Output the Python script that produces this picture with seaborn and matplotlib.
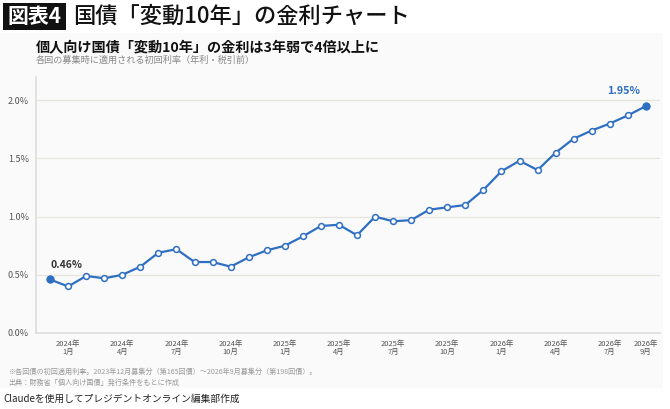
import matplotlib
matplotlib.use("Agg")
import matplotlib.pyplot as plt
import matplotlib.patches as mpatches
import seaborn as sns
import pandas as pd

# ---- data ----
months = ["2023-12", "2024-01", "2024-02", "2024-03", "2024-04", "2024-05", "2024-06",
          "2024-07", "2024-08", "2024-09", "2024-10", "2024-11", "2024-12",
          "2025-01", "2025-02", "2025-03", "2025-04", "2025-05", "2025-06",
          "2025-07", "2025-08", "2025-09", "2025-10", "2025-11", "2025-12",
          "2026-01", "2026-02", "2026-03", "2026-04", "2026-05", "2026-06",
          "2026-07", "2026-08", "2026-09"]
rates = [0.46, 0.40, 0.49, 0.47, 0.50, 0.57, 0.69, 0.72, 0.61, 0.61, 0.57, 0.65,
         0.71, 0.75, 0.83, 0.92, 0.93, 0.84, 1.00, 0.96, 0.97, 1.06, 1.08, 1.10,
         1.23, 1.39, 1.48, 1.40, 1.55, 1.67, 1.74, 1.80, 1.87, 1.95]
tick_months = ["2024-01", "2024-04", "2024-07", "2024-10", "2025-01", "2025-04",
               "2025-07", "2025-10", "2026-01", "2026-04", "2026-07", "2026-09"]
tick_labels = ["2024年\n1月", "2024年\n4月", "2024年\n7月", "2024年\n10月",
               "2025年\n1月", "2025年\n4月", "2025年\n7月", "2025年\n10月",
               "2026年\n1月", "2026年\n4月", "2026年\n7月", "2026年\n9月"]
y_ticks = [0.0, 0.5, 1.0, 1.5, 2.0]

df = pd.DataFrame({"month": months, "rate": rates})
df["idx"] = range(len(df))
ends = df.iloc[[0, -1]]

sns.set_theme(style="white")
plt.rcParams["font.family"] = ["Noto Sans CJK JP", "DejaVu Sans"]

BLUE = "#2f6fc2"
fig = plt.figure(figsize=(6.7, 4.09), dpi=100)
fig.patch.set_facecolor("white")

# light panel
panel = mpatches.Rectangle((0, 1 - 388 / 409), 663 / 670, (388 - 33) / 409,
                           transform=fig.transFigure, facecolor="#fafafa",
                           edgecolor="none", zorder=-5)
fig.patches.append(panel)

# title bar
box = mpatches.Rectangle((3 / 670, 1 - 30 / 409), 63 / 670, 27 / 409,
                         transform=fig.transFigure, facecolor="#111111",
                         edgecolor="none", zorder=-4)
fig.patches.append(box)
fig.text(34.5 / 670, 1 - 16.5 / 409, "図表4", color="white", fontsize=15,
         fontweight="bold", ha="center", va="center")
fig.text(73 / 670, 1 - 16.5 / 409, "国債「変動10年」の金利チャート", color="#111111",
         fontsize=16, fontweight="medium", ha="left", va="center")

fig.text(36 / 670, 1 - 48.5 / 409, "個人向け国債「変動10年」の金利は3年弱で4倍以上に",
         color="#111111", fontsize=10.2, fontweight="bold", ha="left", va="center")
fig.text(36 / 670, 1 - 60 / 409, "各回の募集時に適用される初回利率（年利・税引前）",
         color="#888888", fontsize=6.6, ha="left", va="center")

ax = fig.add_axes([36 / 670, 1 - 333 / 409, (660 - 36) / 670, (333 - 77) / 409])
ax.set_facecolor("#fafafa")

sns.lineplot(data=df, x="idx", y="rate", ax=ax, color=BLUE, linewidth=1.6,
             marker="o", markersize=4.2, markerfacecolor="white",
             markeredgecolor=BLUE, markeredgewidth=1.1, zorder=3)
sns.scatterplot(data=ends, x="idx", y="rate", ax=ax, color=BLUE, s=36,
                edgecolor=BLUE, linewidth=0, zorder=4)

ax.annotate(f"{rates[0]:.2f}%", (0, rates[0]), xytext=(0, 6.5),
            textcoords="offset points", ha="left", va="bottom",
            fontsize=7.5, fontweight="bold", color="#333333")
ax.annotate(f"{rates[-1]:.2f}%", (len(rates) - 1, rates[-1]), xytext=(-4, 7),
            textcoords="offset points", ha="right", va="bottom",
            fontsize=7.8, fontweight="bold", color=BLUE)

ax.set_xlim(-0.78, len(rates) - 1 + 0.78)
ax.set_ylim(0, 2.2)
ax.set_yticks(y_ticks)
ax.set_yticklabels([f"{v:.1f}%" for v in y_ticks], fontsize=6.5, color="#555555")
ax.set_xticks([months.index(m) for m in tick_months])
ax.set_xticklabels(tick_labels, fontsize=5.4, color="#555555", linespacing=1.05)
ax.tick_params(axis="both", length=0, pad=5)
ax.grid(axis="y", color="#e6e4de", linewidth=0.9)
ax.grid(axis="x", visible=False)
ax.set_xlabel("")
ax.set_ylabel("")
for s in ["top", "right"]:
    ax.spines[s].set_visible(False)
ax.spines["left"].set_color("#dddddd")
ax.spines["left"].set_linewidth(1.2)
ax.spines["bottom"].set_color("#dddddd")
ax.spines["bottom"].set_linewidth(1.2)
ax.set_axisbelow(True)

fig.text(8 / 670, 1 - 371.5 / 409,
         "※各回債の初回適用利率。2023年12月募集分（第165回債）〜2026年9月募集分（第198回債）。",
         color="#999999", fontsize=5.1, ha="left", va="center")
fig.text(8 / 670, 1 - 383 / 409, "出典：財務省「個人向け国債」発行条件をもとに作成",
         color="#999999", fontsize=5.1, ha="left", va="center")
fig.text(3 / 670, 1 - 399 / 409, "Claudeを使用してプレジデントオンライン編集部作成",
         color="#222222", fontsize=7.0, ha="left", va="center")

fig.savefig("out.png", dpi=100, facecolor=fig.get_facecolor())
